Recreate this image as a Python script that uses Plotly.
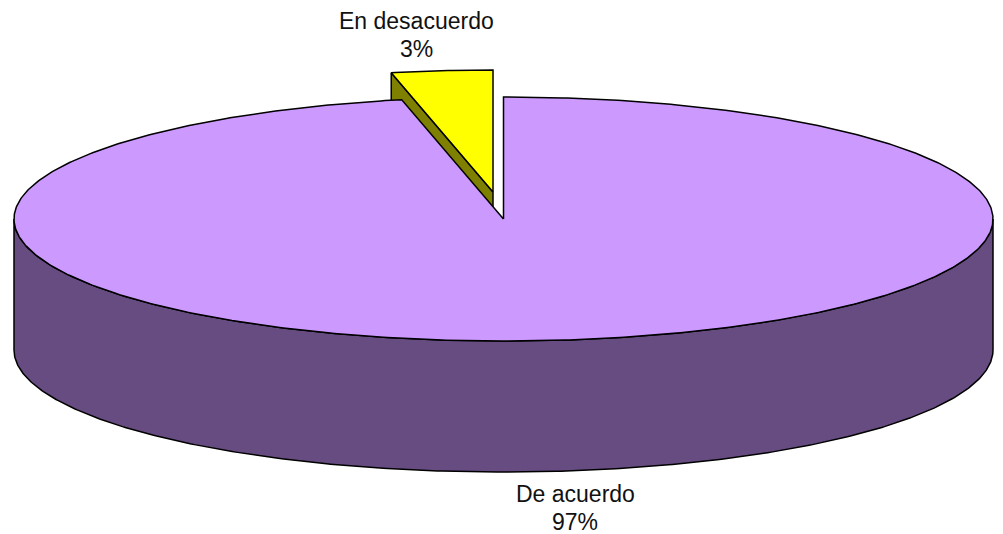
import numpy as np
import plotly.graph_objects as go

labels = ["De acuerdo", "En desacuerdo"]
values = [29, 1]
colors_top = ["#CC99FF", "#FFFF00"]
colors_side = ["#664C80", "#808000"]

# pie geometry in page pixels
cx, cy = 503.5, 219
rx, ry = 489.5, 122
depth = 131
explode_dx, explode_dy = -10.5, -27

total = sum(values)
main_end = 360 * values[0] / total


def rim(start, end, dx=0, dy=0):
    t = np.radians(np.linspace(start, end, int(abs(end - start)) * 2 + 2))
    return cx + dx + rx * np.sin(t), cy + dy - ry * np.cos(t)


def poly(x, y, color):
    return go.Scatter(x=list(x), y=list(y), mode="lines", fill="toself", fillcolor=color,
                      line=dict(color="black", width=1.5), hoverinfo="skip", showlegend=False)


fig = go.Figure()

# small slice first, the big one sits on top of it
sx, sy = rim(main_end, 360, explode_dx, explode_dy)
apex_x, apex_y = cx + explode_dx, cy + explode_dy
fig.add_trace(poly([apex_x, sx[0], sx[0], apex_x, apex_x],
                   [apex_y, sy[0], sy[0] + depth, apex_y + depth, apex_y], colors_side[1]))
fig.add_trace(poly(np.r_[apex_x, sx, apex_x], np.r_[apex_y, sy, apex_y], colors_top[1]))

# big slice: wall then top
wx, wy = rim(90, 270)
fig.add_trace(poly(np.r_[wx, wx[::-1], wx[0]], np.r_[wy, wy[::-1] + depth, wy[0]], colors_side[0]))
mx, my = rim(0, main_end)
fig.add_trace(poly(np.r_[cx, mx, cx], np.r_[cy, my, cy], colors_top[0]))

label_pos = [(575, 494), (416, 21)]
annotations = []
for name, val, (lx, ly) in zip(labels, values, label_pos):
    pct = f"{round(100 * val / total)}%"
    for i, line in enumerate([name, pct]):
        annotations.append(dict(x=lx, y=ly + i * 28, text=line, showarrow=False, xanchor="center",
                                yanchor="middle", font=dict(family="Liberation Sans", size=23, color="#111111")))

fig.update_layout(width=1003, height=534, margin=dict(l=0, r=0, t=0, b=0),
                  paper_bgcolor="white", plot_bgcolor="white", annotations=annotations,
                  xaxis=dict(range=[0, 1003], visible=False),
                  yaxis=dict(range=[534, 0], visible=False))

# browser default body margin would push the chart 8px in
fig.write_html("out.html", config=dict(displayModeBar=False),
               post_script="document.body.style.margin='0';")
